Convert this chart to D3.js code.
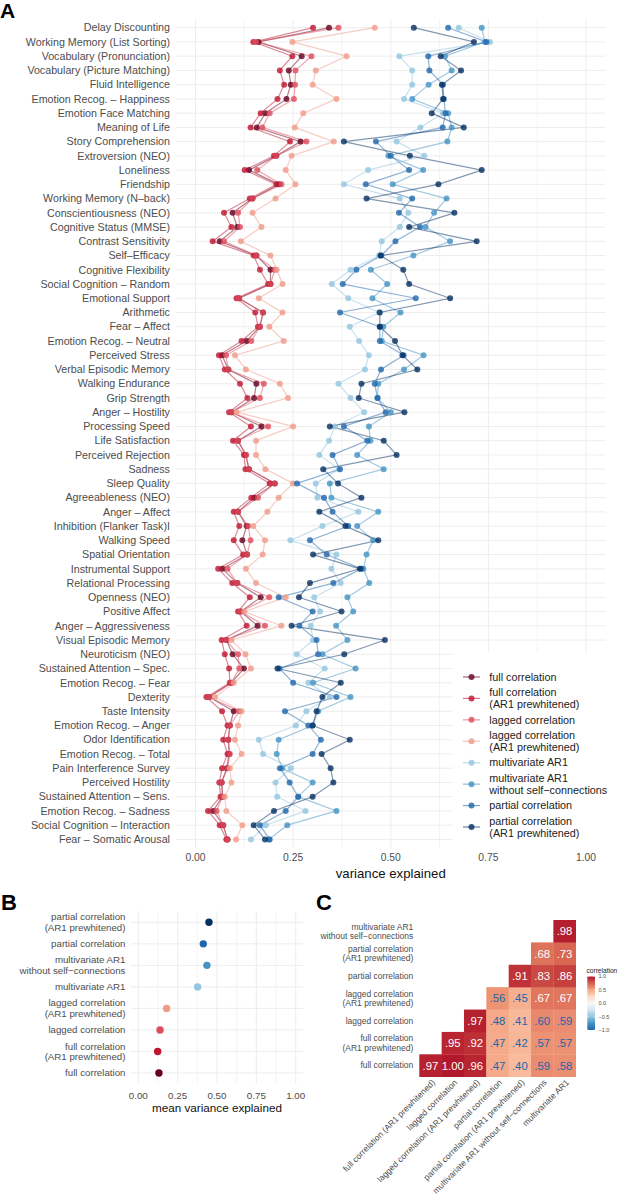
<!DOCTYPE html>
<html><head><meta charset="utf-8">
<script src="https://cdn.jsdelivr.net/npm/d3@7"></script>
<style>
body{margin:0;background:#fff;}
svg{display:block;font-family:"Liberation Sans",Arial,Helvetica,sans-serif;}
</style></head>
<body><svg id="c" width="619" height="1199"></svg>
<script>
const categories = ["Delay Discounting","Working Memory (List Sorting)","Vocabulary (Pronunciation)","Vocabulary (Picture Matching)","Fluid Intelligence","Emotion Recog. – Happiness","Emotion Face Matching","Meaning of Life","Story Comprehension","Extroversion (NEO)","Loneliness","Friendship","Working Memory (N–back)","Conscientiousness (NEO)","Cognitive Status (MMSE)","Contrast Sensitivity","Self–Efficacy","Cognitive Flexibility","Social Cognition – Random","Emotional Support","Arithmetic","Fear – Affect","Emotion Recog. – Neutral","Perceived Stress","Verbal Episodic Memory","Walking Endurance","Grip Strength","Anger – Hostility","Processing Speed","Life Satisfaction","Perceived Rejection","Sadness","Sleep Quality","Agreeableness (NEO)","Anger – Affect","Inhibition (Flanker Task)I","Walking Speed","Spatial Orientation","Instrumental Support","Relational Processing","Openness (NEO)","Positive Affect","Anger – Aggressiveness","Visual Episodic Memory","Neuroticism (NEO)","Sustained Attention – Spec.","Emotion Recog. – Fear","Dexterity","Taste Intensity","Emotion Recog. – Anger","Odor Identification","Emotion Recog. – Total","Pain Interference Survey","Perceived Hostility","Sustained Attention – Sens.","Emotion Recog. – Sadness","Social Cognition – Interaction","Fear – Somatic Arousal"];

const fullCorr = [.342,.161,.272,.239,.244,.233,.179,.157,.269,.207,.137,.214,.146,.095,.107,.062,.156,.192,.192,.111,.173,.165,.131,.068,.084,.156,.150,.092,.169,.109,.128,.137,.203,.150,.109,.131,.120,.132,.069,.107,.167,.116,.159,.079,.095,.124,.092,.035,.098,.088,.084,.086,.080,.067,.069,.045,.071,.082];
const fullCorrPW = [.301,.148,.248,.216,.227,.210,.167,.141,.242,.201,.126,.207,.139,.073,.092,.044,.149,.165,.186,.105,.153,.160,.118,.060,.075,.114,.133,.086,.142,.096,.124,.128,.190,.143,.098,.112,.098,.122,.058,.094,.139,.109,.131,.067,.075,.086,.088,.028,.068,.082,.071,.082,.068,.061,.064,.032,.062,.079];
const laggedCorr = [.366,.155,.297,.256,.255,.252,.190,.171,.284,.207,.158,.220,.146,.109,.114,.073,.156,.203,.192,.111,.173,.165,.143,.078,.084,.175,.165,.092,.186,.109,.130,.137,.203,.160,.109,.135,.141,.132,.082,.107,.189,.116,.178,.079,.109,.112,.092,.035,.112,.088,.084,.088,.082,.067,.069,.054,.071,.082];
const laggedCorrPW = [.459,.248,.387,.308,.300,.361,.276,.254,.354,.246,.231,.256,.205,.146,.169,.116,.192,.208,.223,.162,.223,.189,.226,.101,.129,.216,.237,.105,.250,.155,.155,.179,.250,.213,.184,.148,.178,.172,.129,.155,.231,.125,.220,.092,.128,.142,.098,.050,.118,.109,.101,.118,.088,.092,.075,.079,.120,.104];
const mvar = [.674,.754,.522,.555,.555,.534,.634,.576,.515,.586,.442,.380,.523,.545,.523,.477,.470,.397,.349,.391,.470,.395,.419,.444,.434,.366,.397,.432,.357,.342,.317,.368,.308,.312,.417,.325,.243,.361,.348,.372,.304,.319,.295,.301,.259,.331,.289,.344,.284,.257,.162,.173,.244,.205,.209,.282,.180,.142];
const mvarNoSelf = [.733,.741,.639,.656,.597,.555,.647,.656,.645,.494,.583,.505,.643,.611,.589,.652,.558,.449,.491,.453,.525,.481,.477,.584,.534,.468,.466,.500,.444,.448,.414,.482,.344,.348,.468,.414,.455,.438,.430,.445,.389,.404,.360,.389,.325,.410,.301,.397,.314,.300,.213,.208,.222,.300,.263,.361,.235,.188];
const partialCorr = [.647,.745,.596,.599,.634,.636,.640,.633,.462,.500,.547,.436,.555,.521,.575,.512,.476,.412,.377,.564,.370,.472,.472,.533,.475,.459,.466,.487,.380,.440,.351,.370,.260,.329,.351,.391,.293,.336,.425,.353,.213,.300,.266,.310,.314,.215,.250,.361,.229,.289,.321,.300,.216,.241,.263,.231,.165,.190];
const partialCorrPW = [.559,.713,.628,.680,.631,.634,.605,.687,.380,.549,.733,.622,.438,.663,.547,.720,.474,.532,.547,.652,.472,.472,.511,.530,.568,.425,.418,.535,.344,.482,.515,.327,.365,.425,.317,.384,.468,.301,.421,.293,.265,.374,.246,.485,.381,.210,.372,.325,.310,.300,.395,.323,.346,.353,.300,.201,.149,.178];

const seriesNames = ["full correlation","full correlation\n(AR1 prewhitened)","lagged correlation","lagged correlation\n(AR1 prewhitened)","multivariate AR1","multivariate AR1\nwithout self−connections","partial correlation","partial correlation\n(AR1 prewhitened)"];
const seriesColors = ["#67001f","#c0142f","#e04b5b","#f09a88","#92c5de","#4393c3","#2166ac","#053061"];
const seriesValues = [fullCorr, fullCorrPW, laggedCorr, laggedCorrPW, mvar, mvarNoSelf, partialCorr, partialCorrPW];

// panel B
const meanNames = ["partial correlation\n(AR1 prewhitened)","partial correlation","multivariate AR1\nwithout self−connections","multivariate AR1","lagged correlation\n(AR1 prewhitened)","lagged correlation","full correlation\n(AR1 prewhitened)","full correlation"];
const meanValues = [.449,.413,.436,.377,.180,.138,.123,.131];
const meanColors = ["#053061","#2166ac","#4393c3","#92c5de","#f09a88","#e04b5b","#c0142f","#67001f"];

// panel C
const heatRowLabels = ["full correlation","full correlation\n(AR1 prewhitened)","lagged correlation","lagged correlation\n(AR1 prewhitened)","partial correlation","partial correlation\n(AR1 prewhitened)","multivariate AR1\nwithout self−connections"];
const heatColLabels = ["full correlation (AR1 prewhitened)","lagged correlation","lagged correlation (AR1 prewhitened)","partial correlation","partial correlation (AR1 prewhitened)","multivariate AR1 without self−connections","multivariate AR1"];
const heatValues = [
 [.97,1.00,.96,.47,.40,.59,.58],
 [null,.95,.92,.47,.42,.57,.57],
 [null,null,.97,.48,.41,.60,.59],
 [null,null,null,.56,.45,.67,.67],
 [null,null,null,null,.91,.83,.86],
 [null,null,null,null,null,.68,.73],
 [null,null,null,null,null,null,.98]
];
const xTicks = [0,0.25,0.5,0.75,1];
const xMinor = [0.125,0.375,0.625,0.875];
const legendTicks = [-1,-0.5,0,0.5,1];

const svg = d3.select("#c");
const grid = "#ebebeb";
const txt = "#4d4d4d";

function multiline(sel, label, x, y, lh, anchor){
  const lines = label.split("\n");
  const t = sel.append("text").attr("text-anchor",anchor);
  lines.forEach((l,i)=>{
    t.append("tspan").attr("x",x).attr("y", y + (i-(lines.length-1)/2)*lh).attr("dy","0.35em").text(l);
  });
  return t;
}

// ---------- Panel A ----------
const xA = d3.scaleLinear().domain([0,1]).range([195.5,586]);
const yA = d3.scalePoint().domain(categories).range([27.7,839.4]);
const aTop = 19.2, aBot = 848, aLeft = xA(-0.05), aRight = xA(1.05);
const gA = svg.append("g");
gA.selectAll(".hg").data(categories).join("line").attr("x1",aLeft).attr("x2",aRight)
  .attr("y1",d=>yA(d)).attr("y2",d=>yA(d)).attr("stroke",grid).attr("stroke-width",0.9);
gA.selectAll(".vm").data(xMinor).join("line").attr("x1",d=>xA(d)).attr("x2",d=>xA(d))
  .attr("y1",aTop).attr("y2",aBot).attr("stroke",grid).attr("stroke-width",0.5);
gA.selectAll(".vg").data(xTicks).join("line").attr("x1",d=>xA(d)).attr("x2",d=>xA(d))
  .attr("y1",aTop).attr("y2",aBot).attr("stroke",grid).attr("stroke-width",0.9);

seriesValues.forEach((vals,si)=>{
  const pts = vals.map((v,i)=>[xA(v), yA(categories[i])]);
  gA.append("path").attr("d", d3.line()(pts)).attr("fill","none")
    .attr("stroke",seriesColors[si]).attr("stroke-opacity",0.5).attr("stroke-width",1.2);
});
seriesValues.forEach((vals,si)=>{
  gA.append("g").selectAll("circle").data(vals).join("circle")
    .attr("cx",d=>xA(d)).attr("cy",(d,i)=>yA(categories[i])).attr("r",3)
    .attr("fill",seriesColors[si]).attr("fill-opacity",0.8);
});

gA.selectAll(".yl").data(categories).join("text").attr("x",aLeft-6).attr("y",d=>yA(d)).attr("dy","0.35em")
  .attr("text-anchor","end").attr("font-size",10.7).attr("fill",txt).text(d=>d);
gA.selectAll(".xl").data(xTicks).join("text").attr("x",d=>xA(d)).attr("y",861).attr("text-anchor","middle")
  .attr("font-size",10.3).attr("fill",txt).text(d=>d3.format(".2f")(d));
svg.append("text").attr("x",xA(0.5)).attr("y",877.5).attr("text-anchor","middle").attr("font-size",13.2).attr("fill","#111").text("variance explained");
svg.append("text").attr("x",0).attr("y",18).attr("font-size",21).attr("font-weight","bold").text("A");

// legend
const gL = svg.append("g");
gL.append("rect").attr("x",453).attr("y",652).attr("width",166).attr("height",196).attr("fill","#fff");
const legY = d3.scalePoint().domain(seriesNames).range([677,827]);
seriesNames.forEach((n,i)=>{
  const y = legY(n);
  gL.append("line").attr("x1",463).attr("x2",480).attr("y1",y).attr("y2",y).attr("stroke",seriesColors[i]).attr("stroke-opacity",0.6).attr("stroke-width",1.2);
  gL.append("circle").attr("cx",471.5).attr("cy",y).attr("r",3).attr("fill",seriesColors[i]).attr("fill-opacity",0.8);
  multiline(gL, n, 489.3, y, 11.6, "start").attr("font-size",10.8).attr("fill","#222");
});

// ---------- Panel B ----------
const xB = d3.scaleLinear().domain([0,1]).range([138.3,295.7]);
const yB = d3.scalePoint().domain(meanNames).range([922.3,1073]);
const bTop = 911.5, bBot = 1083.8, bLeft = xB(-0.05), bRight = xB(1.05);
const gB = svg.append("g");
gB.selectAll(".hg").data(meanNames).join("line").attr("x1",bLeft).attr("x2",bRight)
  .attr("y1",d=>yB(d)).attr("y2",d=>yB(d)).attr("stroke",grid).attr("stroke-width",0.9);
gB.selectAll(".vm").data(xMinor).join("line").attr("x1",d=>xB(d)).attr("x2",d=>xB(d))
  .attr("y1",bTop).attr("y2",bBot).attr("stroke",grid).attr("stroke-width",0.5);
gB.selectAll(".vg").data(xTicks).join("line").attr("x1",d=>xB(d)).attr("x2",d=>xB(d))
  .attr("y1",bTop).attr("y2",bBot).attr("stroke",grid).attr("stroke-width",0.9);
gB.selectAll("circle").data(meanValues).join("circle").attr("cx",d=>xB(d)).attr("cy",(d,i)=>yB(meanNames[i]))
  .attr("r",3.7).attr("fill",(d,i)=>meanColors[i]);
meanNames.forEach(n=>{ multiline(gB, n, bLeft-5, yB(n), 10.7, "end").attr("font-size",9.7).attr("fill",txt); });
gB.selectAll(".xl").data(xTicks).join("text").attr("x",d=>xB(d)).attr("y",1098.5).attr("text-anchor","middle")
  .attr("font-size",9.8).attr("fill",txt).text(d=>d3.format(".2f")(d));
svg.append("text").attr("x",xB(0.5)).attr("y",1112).attr("text-anchor","middle").attr("font-size",11.7).attr("fill","#111").text("mean variance explained");
svg.append("text").attr("x",1).attr("y",910).attr("font-size",22).attr("font-weight","bold").text("B");

// ---------- Panel C ----------
const xC = d3.scaleBand().domain(heatColLabels).range([419.3,575.7]);
const yC = d3.scaleBand().domain(heatRowLabels).range([1076.7,920]);
const col = d3.scaleLinear().domain([-1,-.75,-.5,-.25,0,.25,.5,.75,1])
  .range(["#2166ac","#4393c3","#92c5de","#d1e5f0","#f7f7f7","#fddbc7","#f4a582","#d6604d","#b2182b"]);
const gC = svg.append("g");
heatValues.forEach((row,ri)=>{
  row.forEach((v,ci)=>{
    if(v===null) return;
    const x = xC(heatColLabels[ci]), y = yC(heatRowLabels[ri]) - yC.bandwidth();
    gC.append("rect").attr("x",x).attr("y",yC(heatRowLabels[ri])).attr("width",xC.bandwidth()+0.3).attr("height",Math.abs(yC.bandwidth())+0.3).attr("fill",col(v));
    gC.append("text").attr("x",x+xC.bandwidth()/2).attr("y",yC(heatRowLabels[ri])+yC.bandwidth()/2).attr("dy","0.36em")
      .attr("text-anchor","middle").attr("font-size",11.3).attr("fill", v>0.65?"#fff":"#2166ac")
      .text(v>=1?"1.00":d3.format(".2f")(v).replace(/^0/,""));
  });
});
heatRowLabels.forEach(n=>{ multiline(gC, n, 413.3, yC(n)+yC.bandwidth()/2, 9.3, "end").attr("font-size",8.5).attr("fill",txt); });
heatColLabels.forEach(n=>{
  const cx = xC(n)+xC.bandwidth()/2;
  gC.append("text").attr("transform",`translate(${cx+3},${1081}) rotate(-45)`).attr("text-anchor","end").attr("dy","0.35em")
    .attr("font-size",8.5).attr("fill",txt).text(n);
});
svg.append("text").attr("x",316).attr("y",910).attr("font-size",22).attr("font-weight","bold").text("C");

// colour legend
const lgY = d3.scaleLinear().domain([-1,1]).range([1030,976.5]);
const defs = svg.append("defs");
const grad = defs.append("linearGradient").attr("id","cg").attr("x1",0).attr("x2",0).attr("y1",1).attr("y2",0);
d3.range(-1,1.001,0.25).forEach(v=>grad.append("stop").attr("offset",(v+1)/2).attr("stop-color",col(v)));
svg.append("rect").attr("x",587.3).attr("y",lgY(1)).attr("width",7.7).attr("height",lgY(-1)-lgY(1)).attr("fill","url(#cg)");
svg.selectAll(".lt").data(legendTicks).join("line").attr("x1",587.3).attr("x2",589).attr("y1",d=>lgY(d)).attr("y2",d=>lgY(d)).attr("stroke","#fff").attr("stroke-width",0.5);
svg.selectAll(".lt2").data(legendTicks).join("line").attr("x1",593.3).attr("x2",595).attr("y1",d=>lgY(d)).attr("y2",d=>lgY(d)).attr("stroke","#fff").attr("stroke-width",0.5);
svg.selectAll(".ll").data(legendTicks).join("text").attr("x",598.5).attr("y",d=>lgY(d)).attr("dy","0.35em")
  .attr("font-size",5.5).attr("fill",txt).text(d=>d3.format(".1f")(d).replace("-","−"));
svg.append("text").attr("x",586.5).attr("y",972.5).attr("font-size",6.6).attr("fill","#222").text("correlation");
</script></body></html>
